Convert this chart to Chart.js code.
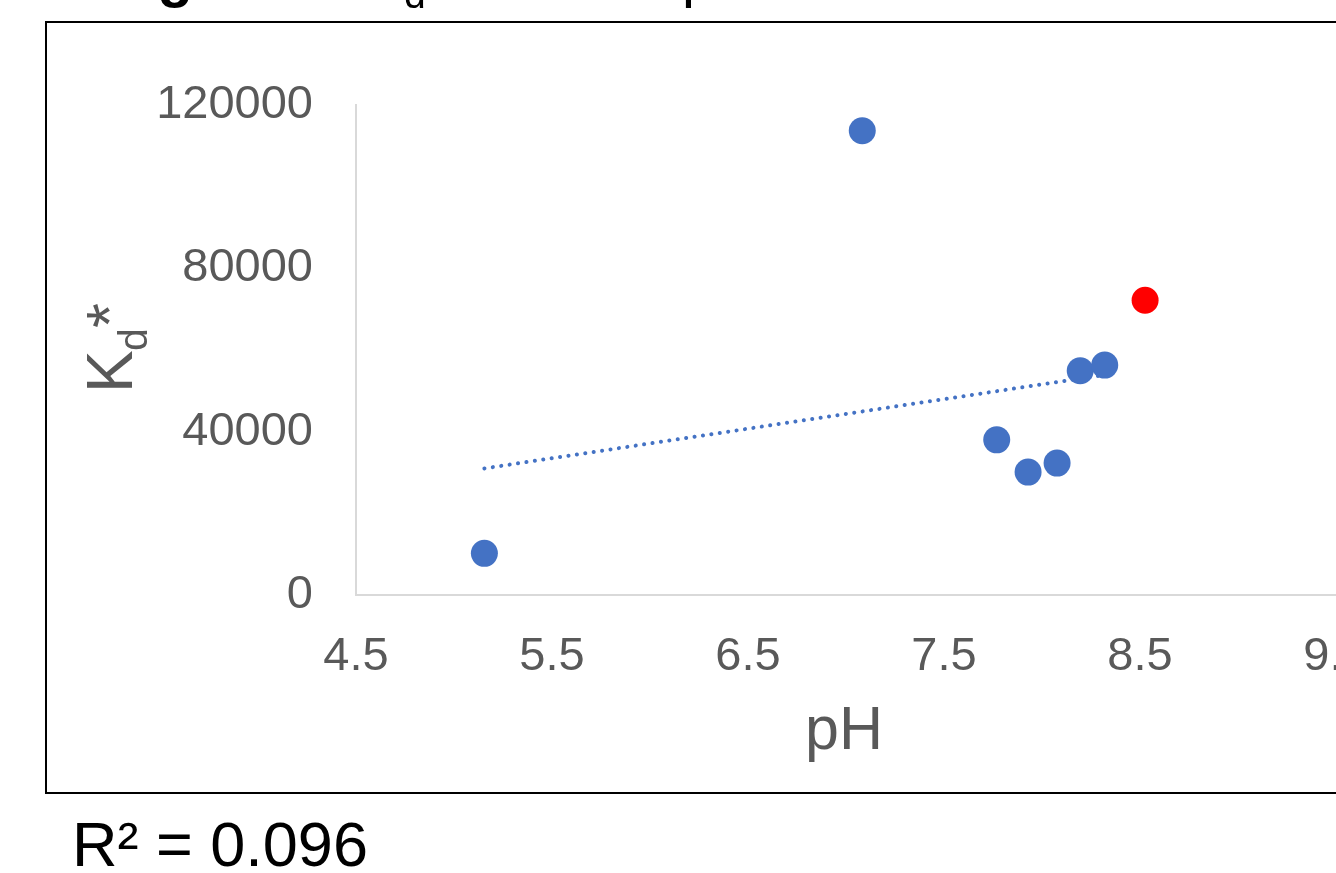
<!DOCTYPE html>
<html>
<head>
<meta charset="utf-8">
<script src="https://cdn.jsdelivr.net/npm/chart.js@4.4.0/dist/chart.umd.min.js"></script>
<style>
  html, body { margin: 0; padding: 0; background: #fff; overflow: hidden; }
  #wrap { position: absolute; left: 0; top: 0; width: 1450px; height: 873px; }
</style>
</head>
<body>
<div id="wrap"><canvas id="kdChart" width="1450" height="873"></canvas></div>
<script>
// valeurs
const phMain = [5.155, 7.083, 7.769, 7.929, 8.077, 8.195, 8.320];
const kdMain = [10200, 113700, 38000, 30100, 32300, 54900, 56300];
const phOutlier = [8.526];
const kdOutlier = [72200];
// courbe de tendance (pointillés)
const trendPh = [5.155, 8.320];
const trendKd = [31000, 53900];

const xTickVals = [4.5, 5.5, 6.5, 7.5, 8.5, 9.5];
const yTickVals = [0, 40000, 80000, 120000];
const r2Label = 'R² = 0.096';

const BLUE = '#4472C4';
const RED = '#FF0000';
const GREY_TXT = '#595959';
const FONT = "'Liberation Sans', Arial, sans-serif";

const toPoints = (xs, ys) => xs.map((x, i) => ({ x: x, y: ys[i] }));

// titres, cadre et R² (texte hors des axes)
const decorPlugin = {
    id: 'decor',
    afterDraw(chart) {
        const ctx = chart.ctx;
        ctx.save();

        // cadre du graphique
        ctx.strokeStyle = '#000';
        ctx.lineWidth = 2;
        ctx.strokeRect(46, 22, 1500, 771);

        // titre coupé en haut (seules les jambes des lettres restent visibles)
        ctx.fillStyle = '#000';
        ctx.textBaseline = 'alphabetic';
        ctx.textAlign = 'left';
        ctx.font = 'bold 58px ' + FONT;
        ctx.fillText('Figure 4.', 106, -4);
        ctx.font = '58px ' + FONT;
        ctx.fillText('K', 362, -4);
        ctx.font = '39px ' + FONT;
        ctx.fillText('d', 404, 8);
        ctx.font = '58px ' + FONT;
        ctx.fillText('* vs.', 426, -4);
        ctx.fillText('pH', 682, -4);

        // titre axe Y : Kd*
        ctx.fillStyle = GREY_TXT;
        ctx.save();
        ctx.translate(132, 393);
        ctx.rotate(-Math.PI / 2);
        ctx.font = '64px ' + FONT;
        ctx.fillText('K', 0, 0);
        ctx.font = '41px ' + FONT;
        ctx.fillText('d', 42, 15);
        ctx.font = '64px ' + FONT;
        ctx.fillText('*', 65, 0);
        ctx.restore();

        // titre axe X
        const xs = chart.scales.x;
        ctx.font = '61px ' + FONT;
        ctx.textAlign = 'center';
        ctx.fillText('pH', (xs.left + xs.right) / 2 - 2, 749);

        // R²
        ctx.fillStyle = '#000';
        ctx.textAlign = 'left';
        ctx.font = '63px ' + FONT;
        ctx.fillText(r2Label, 72, 866);

        ctx.restore();
    }
};

new Chart(document.getElementById('kdChart'), {
    type: 'scatter',
    data: {
        datasets: [
            {
                data: toPoints(phMain, kdMain),
                backgroundColor: BLUE,
                borderColor: BLUE,
                borderWidth: 0,
                pointRadius: 13.5,
                pointHoverRadius: 13.5,
                order: 1
            },
            {
                data: toPoints(phOutlier, kdOutlier),
                backgroundColor: RED,
                borderColor: RED,
                borderWidth: 0,
                pointRadius: 13.5,
                pointHoverRadius: 13.5,
                order: 0
            },
            {
                type: 'line',
                data: toPoints(trendPh, trendKd),
                borderColor: BLUE,
                borderWidth: 4,
                borderDash: [0.1, 8.4],
                borderCapStyle: 'round',
                pointRadius: 0,
                fill: false,
                order: 2
            }
        ]
    },
    options: {
        responsive: false,
        animation: false,
        events: [],
        layout: { padding: { top: 105, right: 114, bottom: 0, left: 0 } },
        plugins: {
            legend: { display: false },
            tooltip: { enabled: false }
        },
        scales: {
            x: {
                type: 'linear',
                min: xTickVals[0],
                max: xTickVals[xTickVals.length - 1],
                afterBuildTicks: s => { s.ticks = xTickVals.map(v => ({ value: v })); },
                afterFit: s => { s.height = 278; },
                grid: { display: false },
                border: { display: true, color: '#D9D9D9', width: 2 },
                ticks: {
                    color: GREY_TXT,
                    font: { family: FONT, size: 47 },
                    padding: 26,
                    maxRotation: 0,
                    autoSkip: false,
                    callback: v => v.toFixed(1)
                }
            },
            y: {
                type: 'linear',
                min: yTickVals[0],
                max: yTickVals[yTickVals.length - 1],
                afterBuildTicks: s => { s.ticks = yTickVals.map(v => ({ value: v })); },
                afterFit: s => { s.width = 356; },
                grid: { display: false },
                border: { display: true, color: '#D9D9D9', width: 2 },
                ticks: {
                    color: GREY_TXT,
                    font: { family: FONT, size: 47 },
                    padding: 35,
                    callback: v => String(v)
                }
            }
        }
    },
    plugins: [decorPlugin]
});
</script>
</body>
</html>
